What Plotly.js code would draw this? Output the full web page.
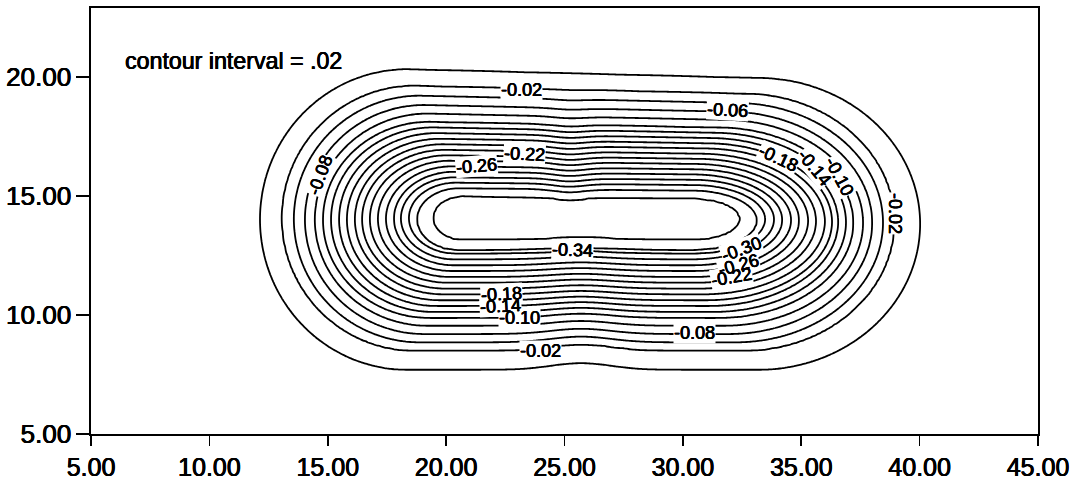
<!DOCTYPE html>
<html>
<head>
<meta charset="utf-8">
<script src="https://cdn.plot.ly/plotly-3.0.1.min.js"></script>
<style>
  html, body { margin: 0; padding: 0; background: #fff; }
  #chart { width: 1078px; height: 482px; }
</style>
</head>
<body>
<div id="chart"></div>
<script>
// Contour levels, outermost to innermost (interval .02)
const levels = [0.00, -0.02, -0.04, -0.06, -0.08, -0.10, -0.12, -0.14, -0.16, -0.18,
                -0.20, -0.22, -0.24, -0.26, -0.28, -0.30, -0.32, -0.34, -0.36];
// Where each closed contour crosses the horizontal line y = 14.1
const leftX  = [12.14, 13.07, 13.57, 14.04, 14.46, 14.80, 15.14, 15.48, 15.81, 16.15,
                16.45, 16.78, 17.12, 17.46, 17.80, 18.09, 18.43, 18.77, 19.45];
const rightX = [40.02, 38.92, 38.45, 37.99, 37.61, 37.19, 36.89, 36.55, 36.30, 36.00,
                35.62, 35.29, 34.90, 34.57, 34.19, 33.85, 33.47, 33.13, 32.41];
// Upper crossing at x = 26.5 and how fast the upper side falls off to the right
const topY     = [20.12, 19.44, 19.04, 18.66, 18.31, 17.97, 17.75, 17.52, 17.29, 17.07,
                  16.84, 16.62, 16.40, 16.17, 15.95, 15.72, 15.50, 15.27, 14.94];
const topSlope = [-0.025, -0.024, -0.023, -0.022, -0.021, -0.020, -0.019, -0.018, -0.017, -0.016,
                  -0.015, -0.014, -0.013, -0.012, -0.011, -0.010, -0.010, -0.010, -0.010];
// Small dip of the upper side near x = 25.2
const topNotch = [0.00, 0.03, 0.05, 0.06, 0.07, 0.08, 0.09, 0.10, 0.10, 0.11,
                  0.11, 0.12, 0.12, 0.12, 0.12, 0.12, 0.12, 0.12, 0.10];
// Lower crossing away from the bump, and the rise of the lower side near x = 25.7
const bottomY    = [7.70, 8.51, 8.85, 9.20, 9.55, 9.88, 10.13, 10.38, 10.62, 10.87,
                    11.11, 11.36, 11.60, 11.85, 12.09, 12.34, 12.59, 12.71, 13.15];
const bottomBump = [0.28, 0.26, 0.24, 0.22, 0.20, 0.18, 0.17, 0.16, 0.15, 0.14,
                    0.14, 0.13, 0.13, 0.12, 0.12, 0.11, 0.11, 0.10, 0.10];

// Contour value labels
const labelText  = ['-0.02', '-0.06', '-0.08', '-0.26', '-0.22', '-0.18', '-0.14', '-0.10', '-0.02',
                    '-0.34', '-0.30', '-0.26', '-0.22', '-0.18', '-0.14', '-0.10', '-0.08', '-0.02'];
const labelX     = [23.19, 31.90, 14.67, 21.29, 23.33, 34.03, 35.58, 36.60, 38.96,
                    25.34, 32.48, 32.34, 32.06, 22.35, 22.28, 23.12, 30.51, 23.97];
const labelY     = [19.44, 18.60, 15.90, 16.26, 16.75, 16.61, 16.19, 15.84, 14.29,
                    12.75, 12.77, 12.12, 11.60, 10.88, 10.39, 9.87, 9.24, 8.47];
const labelAngle = [0, 3, -70, -5, 3, 25, 50, 62, 90,
                    2, -20, -15, -10, -3, -3, 0, 0, 0];

const xTicks = [5, 10, 15, 20, 25, 30, 35, 40, 45];
const yTicks = [5, 10, 15, 20];

// Each contour is treated as a rounded band (middle part plus elliptic ends).
// Between two neighbouring contours the grid value is blended so that every
// contour runs through its own crossings.
const n = levels.length;
const shapes = levels.map((lv, k) => {
  const b0 = (topY[k] - bottomY[k]) / 2;
  const t = k / (n - 1);
  return {
    L: leftX[k], R: rightX[k], T: topY[k], B: bottomY[k],
    ts: topSlope[k], notch: topNotch[k], bump: bottomBump[k],
    rxL: b0 * (1 + 0.4 * t), rxR: b0 * (1.1 + 1.1 * t)
  };
});

function gap(s, x, y) {
  const xc = Math.min(Math.max(x, s.L + s.rxL), s.R - s.rxR);
  const top = s.T + s.ts * (xc - 26.5) - s.notch * Math.exp(-Math.pow((xc - 25.2) / 0.9, 2));
  const bot = s.B + s.bump * Math.exp(-Math.pow((xc - 25.7) / 1.8, 2));
  const cy = (top + bot) / 2, b = (top - bot) / 2;
  let dx = 0;
  if (x < s.L + s.rxL) dx = (s.L + s.rxL - x) / s.rxL;
  else if (x > s.R - s.rxR) dx = (x - (s.R - s.rxR)) / s.rxR;
  const dy = (y - cy) / b;
  return (Math.sqrt(dx * dx + dy * dy) - 1) * b;
}

const xs = [], ys = [];
for (let i = 0; i <= 400; i++) xs.push(5 + i * 0.1);
for (let j = 0; j <= 180; j++) ys.push(5 + j * 0.1);

const zz = ys.map(y => xs.map(x => {
  const g = shapes.map(s => gap(s, x, y));
  let k = -1;
  for (let i = n - 1; i >= 0; i--) { if (g[i] <= 0) { k = i; break; } }
  if (k === -1) return levels[0] + 0.02 * Math.min(1, g[0]);
  if (k === n - 1) return levels[n - 1] - 0.012 * Math.min(1, -g[n - 1] / 0.8);
  const a = -g[k], c = g[k + 1];
  return levels[k] + (levels[k + 1] - levels[k]) * a / (a + c);
}));

const font = 'Liberation Sans, Arial, sans-serif';
// slight extra ink on the printed characters
const ink = '0.45px 0 0 #000, -0.25px 0 0 #000, 0 0.3px 0 #000';

const trace = {
  type: 'contour',
  x: xs, y: ys, z: zz,
  contours: { start: levels[n - 1], end: levels[0] + 0.001, size: 0.02, coloring: 'none', showlabels: false },
  line: { color: '#000', width: 1.8, smoothing: 0.8 },
  showscale: false,
  hoverinfo: 'skip'
};

// White boxes first so the lines break under the labels, then the label text on top
const bgNotes = labelText.map((t, i) => ({
  x: labelX[i], y: labelY[i], xref: 'x', yref: 'y', text: t, textangle: labelAngle[i],
  showarrow: false, bgcolor: '#fff', borderpad: 0,
  font: { family: font, size: 18, color: 'rgba(0,0,0,0)' }
}));
const textNotes = labelText.map((t, i) => ({
  x: labelX[i], y: labelY[i], xref: 'x', yref: 'y', text: t, textangle: labelAngle[i],
  showarrow: false, font: { family: font, size: 18, color: '#000', shadow: ink }
}));

const axisCommon = {
  showline: true, mirror: true, linecolor: '#000', linewidth: 1.6,
  ticks: 'outside', tickcolor: '#000', tickwidth: 1.6,
  showgrid: false, zeroline: false
};

const layout = {
  width: 1078, height: 482,
  margin: { l: 91, r: 40, t: 8, b: 48, pad: 0 },
  paper_bgcolor: '#fff', plot_bgcolor: '#fff',
  showlegend: false,
  xaxis: Object.assign({}, axisCommon, {
    range: [5, 45], tickvals: xTicks, ticktext: xTicks.map(v => v.toFixed(2)),
    ticklen: 10, ticklabelstandoff: 0,
    tickfont: { family: font, size: 25, color: '#000', shadow: ink }
  }),
  yaxis: Object.assign({}, axisCommon, {
    range: [5, 22.9], tickvals: yTicks, ticktext: yTicks.map(v => v.toFixed(2)),
    ticklen: 13, ticklabelstandoff: 0,
    tickfont: { family: font, size: 26, color: '#000', shadow: ink }
  }),
  annotations: bgNotes.concat(textNotes, [{
    x: 6.34, y: 20.68, xref: 'x', yref: 'y', xanchor: 'left', yanchor: 'middle',
    text: 'contour interval = .02', showarrow: false,
    font: { family: font, size: 23.2, color: '#000', shadow: ink }
  }])
};

Plotly.newPlot('chart', [trace], layout, { displayModeBar: false, staticPlot: true });
</script>
</body>
</html>
